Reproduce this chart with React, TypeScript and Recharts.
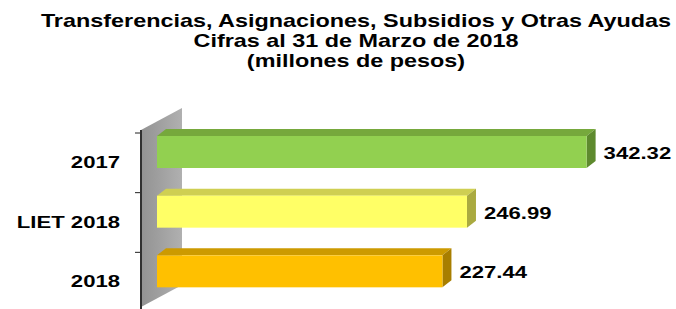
import { BarChart, Bar, XAxis, YAxis, ReferenceArea, LabelList } from 'recharts'

const CATEGORIES = ['2017', 'LIET 2018', '2018']
const VALUES = [342.32, 246.99, 227.44]
const TITLE = [
  'Transferencias, Asignaciones, Subsidios y Otras Ayudas',
  'Cifras al 31 de Marzo de 2018',
  '(millones de pesos)',
]

const FRONT = ['#92D050', '#FFFF66', '#FFC000']
const TOP = ['#76A83C', '#CFCF52', '#CC9A00']
const SIDE = ['#5E8A2E', '#AAAA40', '#A87E00']

const FONT = '"Liberation Sans", Arial, sans-serif'
const SX = 1.3
const DX = 16
const DY = -11
const DEPTH_X = 9
const DEPTH_Y = 7

const data = CATEGORIES.map((name, i) => ({ name, value: VALUES[i] }))

function Bar3D(props: any) {
  const { x, y, width, height, index } = props
  const fx = x + DX
  const fy = y + DY
  const top = `${fx},${fy} ${fx + DEPTH_X},${fy - DEPTH_Y} ${fx + width + DEPTH_X},${fy - DEPTH_Y} ${fx + width},${fy}`
  const side = `${fx + width},${fy} ${fx + width + DEPTH_X},${fy - DEPTH_Y} ${fx + width + DEPTH_X},${fy + height - DEPTH_Y} ${fx + width},${fy + height}`
  return (
    <g>
      <polygon points={top} fill={TOP[index]} />
      <polygon points={side} fill={SIDE[index]} />
      <rect x={fx} y={fy} width={width} height={height} fill={FRONT[index]} />
    </g>
  )
}

function ValueLabel(props: any) {
  const { x, y, width, height, value } = props
  const lx = x + DX + width + DEPTH_X + 8
  const ly = y + DY + height / 2 + 7
  return (
    <text
      transform={`translate(${lx},${ly}) scale(${SX},1)`}
      fontFamily={FONT}
      fontWeight="bold"
      fontSize={17}
      fill="#000"
    >
      {Number(value).toFixed(2)}
    </text>
  )
}

function CatTick(props: any) {
  const { y, payload } = props
  return (
    <text
      transform={`translate(120,${y + 5}) scale(${SX},1)`}
      textAnchor="end"
      fontFamily={FONT}
      fontWeight="bold"
      fontSize={17}
      fill="#000"
    >
      {payload.value}
    </text>
  )
}

function Wall(props: any) {
  const { x, y, height } = props
  const b = y + height
  const pts = `${x},${y - 3} ${x + 41},${y - 25} ${x + 41},${b - 27} ${x},${b - 5}`
  const band = height / CATEGORIES.length
  return (
    <g>
      <defs>
        <linearGradient id="wallGrad" x1="0" y1="0" x2="1" y2="0">
          <stop offset="0%" stopColor="#929292" />
          <stop offset="100%" stopColor="#B0B0B0" />
        </linearGradient>
      </defs>
      <polygon points={pts} fill="url(#wallGrad)" />
      {CATEGORIES.map((c, i) => (
        <line key={c} x1={x - 6} x2={x} y1={y + i * band} y2={y + i * band} stroke="#202020" strokeWidth={1} />
      ))}
      <line x1={x} x2={x} y1={y - 3} y2={b} stroke="#303030" strokeWidth={2} />
    </g>
  )
}

export default function App() {
  return (
    <div style={{ position: 'absolute', left: 0, top: 0, width: 676, height: 309, overflow: 'hidden', background: '#fff' }}>
      <svg width={676} height={80} style={{ position: 'absolute', left: 0, top: 0 }}>
        {TITLE.map((t, i) => (
          <text
            key={t}
            transform={`translate(356,${27 + i * 20}) scale(${SX},1)`}
            textAnchor="middle"
            fontFamily={FONT}
            fontWeight="bold"
            fontSize={18}
            fill="#000"
          >
            {t}
          </text>
        ))}
      </svg>
      <div style={{ position: 'absolute', left: 0, top: 0 }}>
        <BarChart
          width={676}
          height={320}
          data={data}
          layout="vertical"
          margin={{ top: 133, right: 33, bottom: 8, left: 0 }}
        >
          <XAxis type="number" domain={[0, 400]} hide />
          <YAxis
            type="category"
            dataKey="name"
            width={141}
            axisLine={false}
            tickLine={false}
            tick={<CatTick />}
          />
          <ReferenceArea x1={0} shape={<Wall />} ifOverflow="visible" />
          <Bar dataKey="value" barSize={32} shape={<Bar3D />} isAnimationActive={false}>
            <LabelList dataKey="value" content={<ValueLabel />} />
          </Bar>
        </BarChart>
      </div>
    </div>
  )
}
